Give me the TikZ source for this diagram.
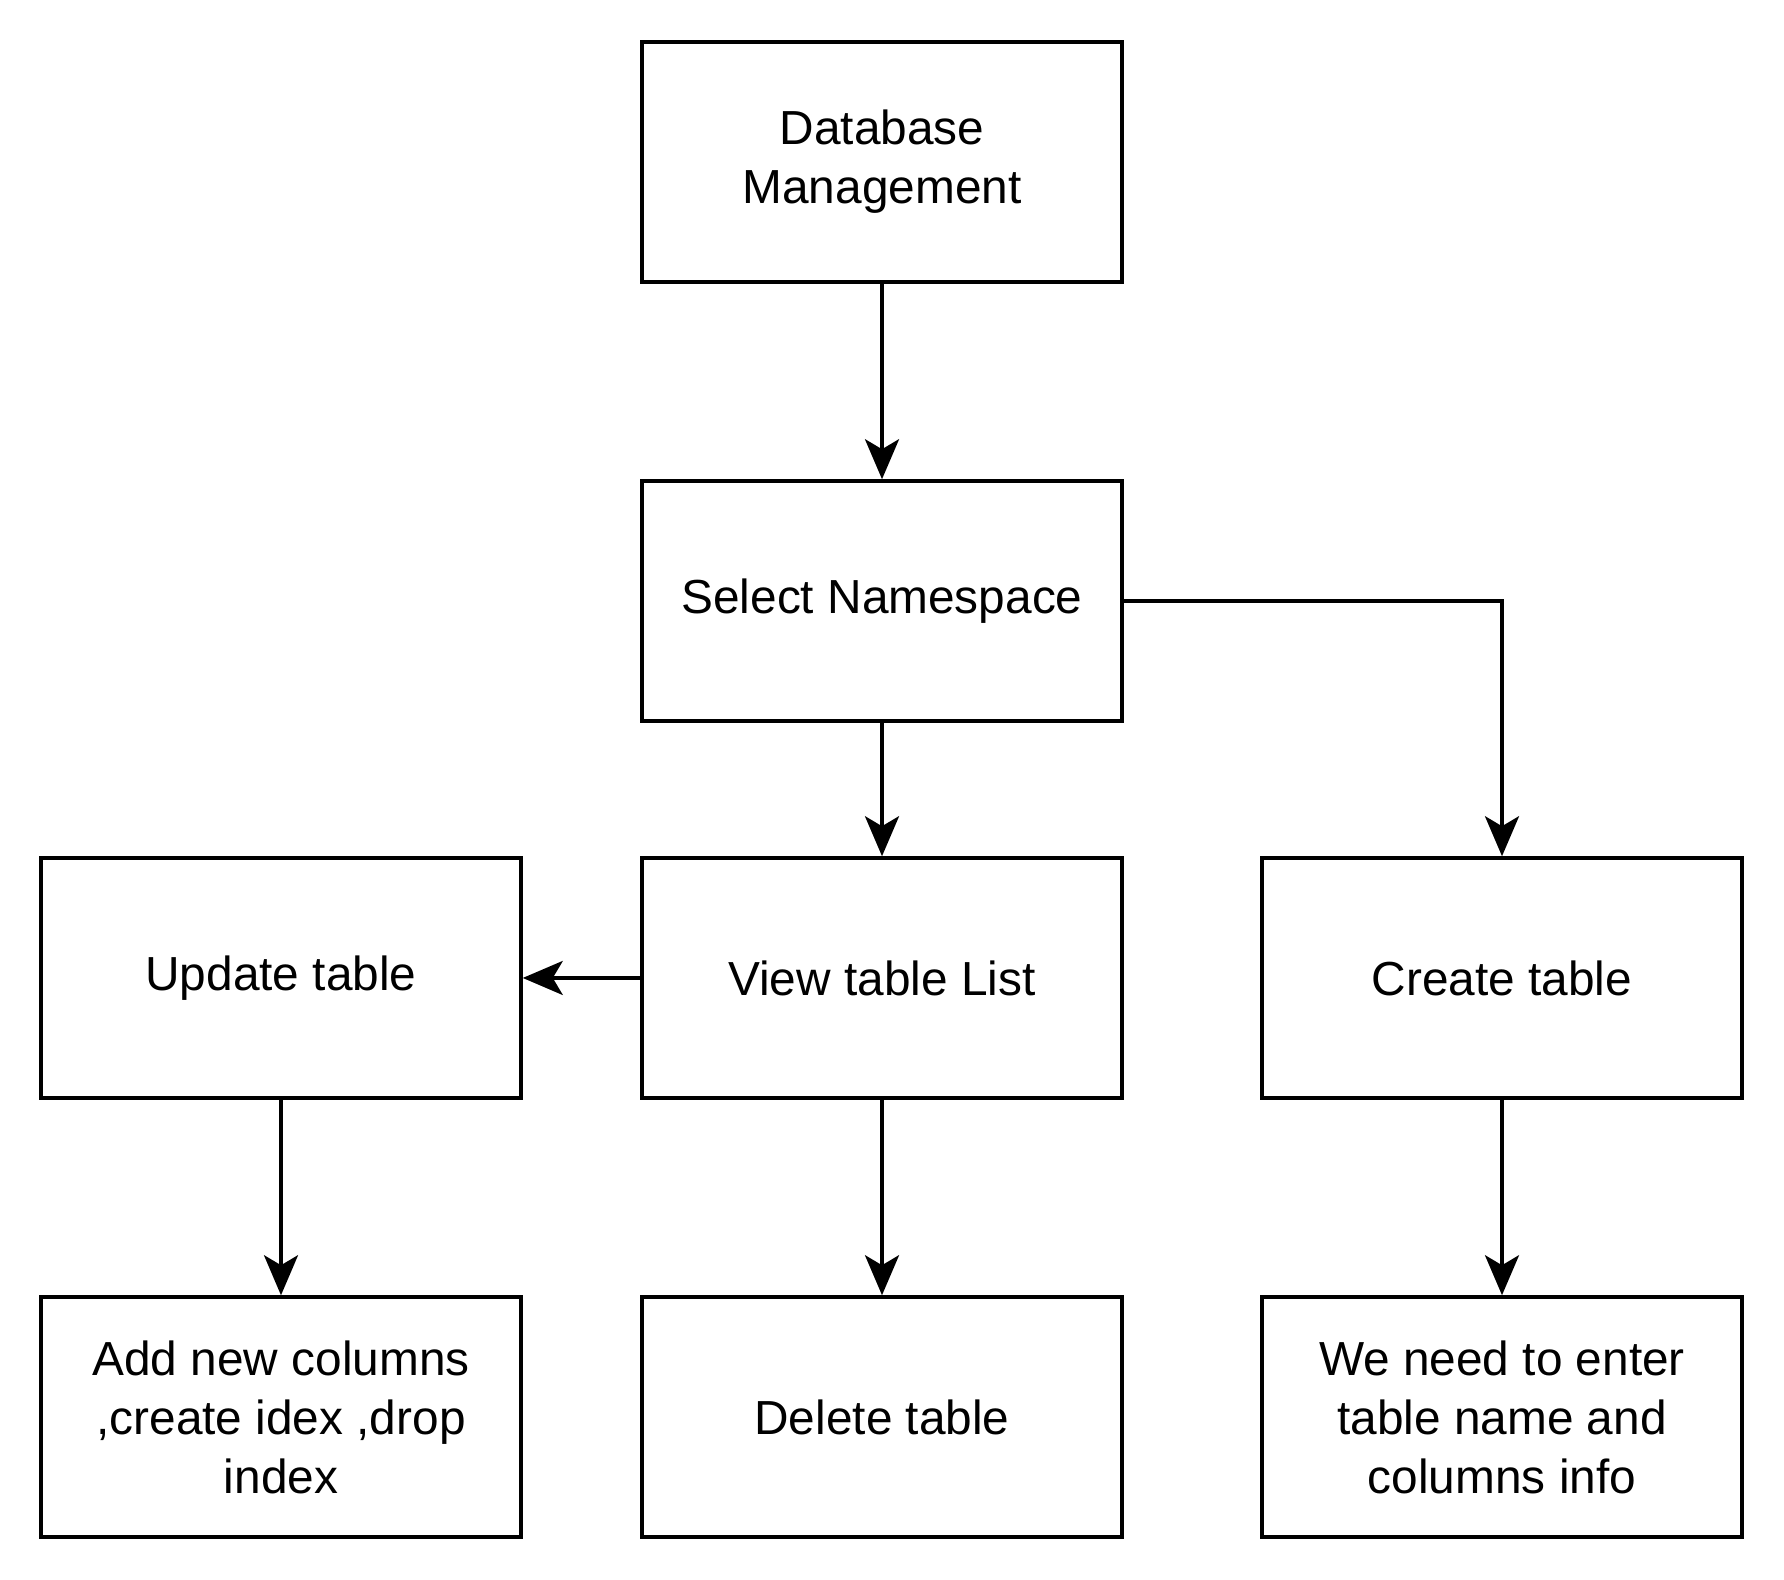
\documentclass[tikz,border=0pt]{standalone}
\usepackage{fontspec}
\setmainfont{Liberation Sans}
\usetikzlibrary{arrows.meta, positioning}

\begin{document}
\begin{tikzpicture}[
  font=\fontsize{13.6}{16.8}\selectfont, >=Stealth,
  box/.style={draw=black, line width=1pt, minimum width=4.8cm,
              minimum height=2.4cm, align=center, inner sep=2pt},
  flow/.style={->, >={Stealth[length=4mm, width=3.4mm, inset=1mm]},
               line width=1pt, black}
]
  \useasboundingbox (0,0) rectangle (17.84,15.80);
  \def\xL{2.81}  \def\xM{8.82}  \def\xR{15.02}
  \def\yA{14.18} \def\yB{9.79}  \def\yC{6.02} \def\yD{1.63}

  %--- top of the flow ---
  \node[box] (dbm) at (\xM,\yA) {Database\\Management};
  \node[box] (ns)  at (\xM,\yB) {Select Namespace};

  %--- table actions ---
  \node[box] (upd)  at (\xL,\yC) {Update table};
  \node[box] (view) at (\xM,\yC) {View table List};
  \node[box] (crt)  at (\xR,\yC) {Create table};

  %--- details ---
  \node[box] (cols) at (\xL,\yD) {Add new columns\\,create idex ,drop\\index};
  \node[box] (del)  at (\xM,\yD) {Delete table};
  \node[box] (info) at (\xR,\yD) {We need to enter\\table name and\\columns info};

  %--- connectors ---
  \draw[flow] (dbm) -- (ns);
  \draw[flow] (ns) -- (view);
  \draw[flow] (ns.east) -| (crt.north);
  \draw[flow] (view) -- (upd);
  \draw[flow] (upd) -- (cols);
  \draw[flow] (view) -- (del);
  \draw[flow] (crt) -- (info);
\end{tikzpicture}
\end{document}
